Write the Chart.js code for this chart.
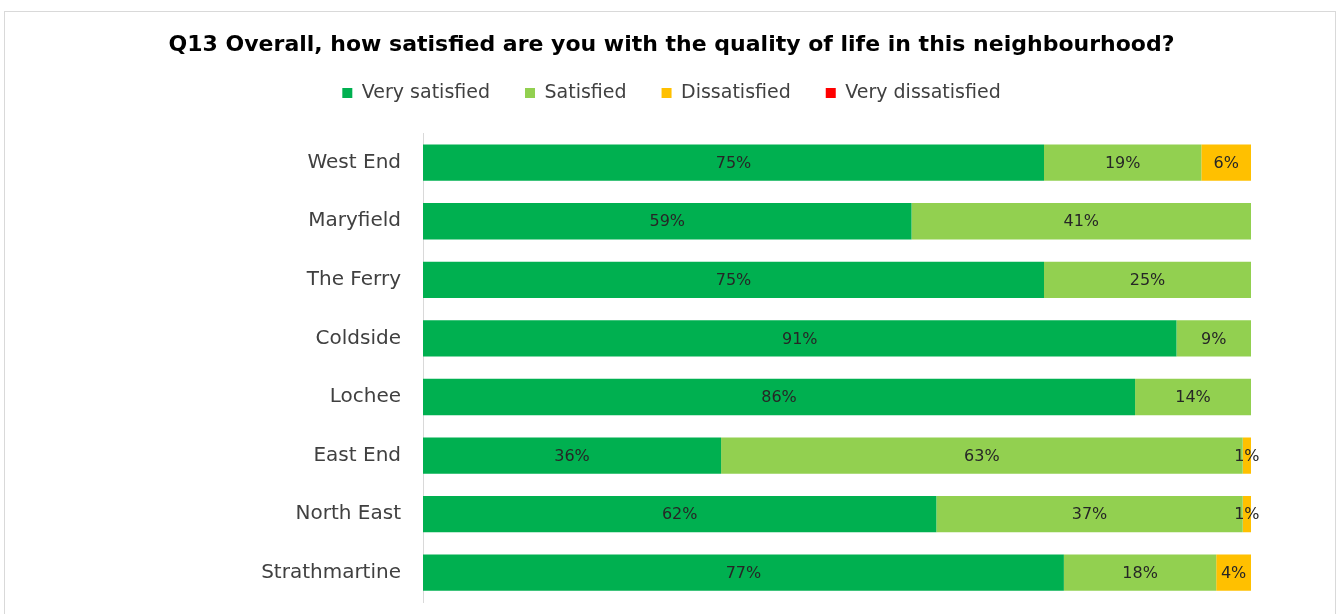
<!DOCTYPE html>
<html>
<head>
<meta charset="utf-8">
<script src="https://cdn.jsdelivr.net/npm/chart.js@4"></script>
<style>
    body { margin: 0; background: #fff; }
    #frame { position: absolute; left: 4px; top: 11px; width: 1332px; height: 620px; border: 1px solid #d9d9d9; box-sizing: border-box; }
    #wrap { position: absolute; left: 0; top: 0; width: 1343px; height: 614px; }
</style>
</head>
<body>
<div id="frame"></div>
<div id="wrap"><canvas id="graficoSatisfacao"></canvas></div>
<script>
const areas = ["West End", "Maryfield", "The Ferry", "Coldside", "Lochee", "East End", "North East", "Strathmartine"]
const muitoSatisfeito = [75, 59, 75, 91, 86, 36, 62, 77.4]
const satisfeito = [19, 41, 25, 9, 14, 63, 37, 18.4]
const insatisfeito = [6, 0, 0, 0, 0, 1, 1, 4.2]
const muitoInsatisfeito = [0, 0, 0, 0, 0, 0, 0, 0]

const fonte = "'DejaVu Sans', sans-serif"

// rotulos de percentagem no centro de cada segmento
const rotulos = {
    id: "rotulos",
    afterDatasetsDraw(chart) {
        const ctx = chart.ctx
        ctx.save()
        ctx.font = "16px " + fonte
        ctx.fillStyle = "#262626"
        ctx.textAlign = "center"
        ctx.textBaseline = "middle"
        chart.data.datasets.forEach((ds, i) => {
            chart.getDatasetMeta(i).data.forEach((bar, j) => {
                if (!ds.data[j]) return
                const p = bar.getCenterPoint()
                ctx.fillText(Math.round(ds.data[j]) + "%", p.x, p.y + 1)
            })
        })
        ctx.restore()
    }
}

function criarGrafico () {
    const canvas = document.getElementById("graficoSatisfacao")
    new Chart(canvas, {
        type: "bar",
        data: {
            labels: areas,
            datasets: [
                { label: "Very satisfied", data: muitoSatisfeito, backgroundColor: "#00b050" },
                { label: "Satisfied", data: satisfeito, backgroundColor: "#92d050" },
                { label: "Dissatisfied", data: insatisfeito, backgroundColor: "#ffc000" },
                { label: "Very dissatisfied", data: muitoInsatisfeito, backgroundColor: "#ff0000" }
            ]
        },
        options: {
            indexAxis: "y",
            responsive: true,
            maintainAspectRatio: false,
            animation: false,
            barPercentage: 0.62,
            categoryPercentage: 1,
            layout: { padding: { top: 32, right: 92, bottom: 12, left: 92 } },
            scales: {
                x: {
                    stacked: true,
                    min: 0,
                    max: 100,
                    position: "top",
                    grid: { display: false },
                    border: { display: false },
                    ticks: { display: false },
                    afterFit(scale) { scale.height = 21 }
                },
                y: {
                    stacked: true,
                    grid: { display: false },
                    border: { color: "#d9d9d9" },
                    ticks: { color: "#404040", font: { family: fonte, size: 20 }, padding: 14 },
                    afterFit(scale) {
                        scale.width = 331
                        scale.paddingTop = 0
                        scale.paddingBottom = 0
                    }
                }
            },
            plugins: {
                title: {
                    display: true,
                    text: "Q13 Overall, how satisfied are you with the quality of life in this neighbourhood?",
                    color: "#000",
                    font: { family: fonte, size: 22, weight: "bold" },
                    padding: { top: 0, bottom: -10 }
                },
                legend: {
                    labels: {
                        color: "#404040",
                        font: { family: fonte, size: 19 },
                        boxWidth: 10,
                        boxHeight: 10,
                        padding: 35
                    }
                },
                tooltip: { enabled: false }
            }
        },
        plugins: [rotulos]
    })
}

criarGrafico()
</script>
</body>
</html>
